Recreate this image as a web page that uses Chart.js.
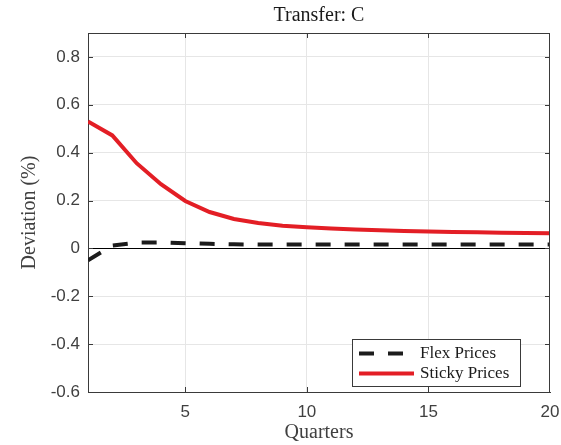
<!DOCTYPE html>
<html>
<head>
<meta charset="utf-8">
<script src="https://cdn.jsdelivr.net/npm/chart.js@4.4.0/dist/chart.umd.min.js"></script>
<style>
  html, body { margin: 0; padding: 0; background: #fff; }
  #wrap { width: 561px; height: 445px; }
</style>
</head>
<body>
<div id="wrap"><canvas id="c" width="561" height="445"></canvas></div>
<script>
// Impulse responses to a transfer shock, deviation from steady state (%)
const quarters = [1, 2, 3, 4, 5, 6, 7, 8, 9, 10, 11, 12, 13, 14, 15, 16, 17, 18, 19, 20];
const flexPrices = [-0.050, 0.012, 0.024, 0.025, 0.022, 0.019, 0.017, 0.016, 0.016, 0.016,
                    0.016, 0.016, 0.016, 0.016, 0.016, 0.016, 0.016, 0.016, 0.016, 0.016];
const stickyPrices = [0.530, 0.472, 0.356, 0.268, 0.198, 0.152, 0.123, 0.106, 0.095, 0.088,
                      0.083, 0.079, 0.076, 0.073, 0.071, 0.069, 0.067, 0.065, 0.064, 0.063];
const xTicks = [5, 10, 15, 20];
const yTicks = [-0.6, -0.4, -0.2, 0, 0.2, 0.4, 0.6, 0.8];

const SERIF = "'Liberation Serif', 'Times New Roman', serif";
const SANS = "'Liberation Sans', Arial, sans-serif";
const AXIS_COLOR = '#3a3a3a';
const GRID_COLOR = '#e6e6e6';

// Box around the plot plus inward tick marks on all four sides
const axesBox = {
  id: 'axesBox',
  afterDatasetsDraw(chart) {
    const { ctx, chartArea: a, scales } = chart;
    ctx.save();
    ctx.strokeStyle = AXIS_COLOR;
    ctx.lineWidth = 1;
    ctx.beginPath();
    ctx.moveTo(a.left, a.top + 0.5); ctx.lineTo(a.right, a.top + 0.5);
    ctx.moveTo(a.right - 0.5, a.top); ctx.lineTo(a.right - 0.5, a.bottom);
    const len = 5;
    scales.x.ticks.forEach(t => {
      const px = Math.round(scales.x.getPixelForValue(t.value)) + 0.5;
      if (px >= a.right - 1) return;
      ctx.moveTo(px, a.bottom); ctx.lineTo(px, a.bottom - len);
      ctx.moveTo(px, a.top); ctx.lineTo(px, a.top + len);
    });
    scales.y.ticks.forEach(t => {
      const py = Math.round(scales.y.getPixelForValue(t.value)) + 0.5;
      ctx.moveTo(a.left, py); ctx.lineTo(a.left + len, py);
      ctx.moveTo(a.right, py); ctx.lineTo(a.right - len, py);
    });
    ctx.stroke();
    ctx.restore();
  }
};

// Boxed legend in the lower right of the plot
const boxLegend = {
  id: 'boxLegend',
  afterDraw(chart) {
    const { ctx, chartArea: a } = chart;
    const w = 168, h = 47;
    const x0 = a.right - 30 - w, y0 = a.bottom - 6 - h;
    ctx.save();
    ctx.fillStyle = '#fff';
    ctx.fillRect(x0, y0, w, h);
    ctx.strokeStyle = AXIS_COLOR;
    ctx.lineWidth = 1;
    ctx.strokeRect(x0 + 0.5, y0 + 0.5, w, h);
    ctx.font = '17px ' + SERIF;
    ctx.textBaseline = 'middle';
    ctx.textAlign = 'left';
    chart.data.datasets.forEach((ds, i) => {
      const y = y0 + 14.5 + i * 20;
      ctx.strokeStyle = ds.borderColor;
      ctx.lineWidth = ds.borderWidth;
      ctx.lineCap = 'butt';
      ctx.setLineDash(ds.borderDash || []);
      ctx.beginPath();
      ctx.moveTo(x0 + 7, y);
      ctx.lineTo(x0 + (ds.borderDash ? 51 : 62), y);
      ctx.stroke();
      ctx.setLineDash([]);
      ctx.fillStyle = '#1a1a1a';
      ctx.fillText(ds.label, x0 + 68, y);
    });
    ctx.restore();
  }
};

new Chart(document.getElementById('c'), {
  type: 'line',
  data: {
    labels: quarters,
    datasets: [
      {
        label: 'Flex Prices',
        data: quarters.map((q, i) => ({ x: q, y: flexPrices[i] })),
        borderColor: '#1c1c1c',
        borderWidth: 4,
        borderDash: [15, 14],
        borderCapStyle: 'butt',
        pointRadius: 0,
        tension: 0,
        fill: false
      },
      {
        label: 'Sticky Prices',
        data: quarters.map((q, i) => ({ x: q, y: stickyPrices[i] })),
        borderColor: '#e31e25',
        borderWidth: 4,
        pointRadius: 0,
        tension: 0,
        fill: false
      }
    ]
  },
  options: {
    responsive: false,
    animation: false,
    devicePixelRatio: 1,
    layout: { padding: { left: 0, right: 11, top: 0, bottom: 0 } },
    plugins: {
      legend: { display: false },
      tooltip: { enabled: false },
      title: {
        display: true,
        fullSize: false,
        text: 'Transfer: C',
        color: '#1a1a1a',
        font: { family: SERIF, size: 20, weight: 'normal' },
        padding: { top: 4, bottom: 5 }
      }
    },
    scales: {
      x: {
        type: 'linear',
        min: 1,
        max: 20,
        afterBuildTicks: s => { s.ticks = xTicks.map(v => ({ value: v })); },
        afterFit: s => { s.height = 53; s.paddingLeft = 0; s.paddingRight = 0; },
        ticks: {
          color: '#404040',
          font: { family: SANS, size: 17 },
          padding: 10,
          maxRotation: 0,
          callback: v => String(v)
        },
        grid: {
          color: c => (c.tick && c.tick.value >= 20) ? 'rgba(0,0,0,0)' : GRID_COLOR,
          lineWidth: 1,
          drawTicks: false
        },
        border: { display: true, color: AXIS_COLOR, width: 1 },
        title: {
          display: true,
          text: 'Quarters',
          color: '#404040',
          font: { family: SERIF, size: 20, weight: 'normal' },
          padding: { top: 0, bottom: 0 }
        }
      },
      y: {
        type: 'linear',
        min: -0.6,
        max: 0.9,
        afterBuildTicks: s => { s.ticks = yTicks.map(v => ({ value: v })); },
        afterFit: s => { s.width = 88; },
        ticks: {
          color: '#404040',
          font: { family: SANS, size: 17 },
          padding: 8,
          callback: v => String(Math.round(v * 10) / 10)
        },
        grid: {
          color: c => (c.tick && Math.abs(c.tick.value) < 1e-9) ? '#000000' : GRID_COLOR,
          lineWidth: 1,
          drawTicks: false
        },
        border: { display: true, color: AXIS_COLOR, width: 1 },
        title: {
          display: true,
          text: 'Deviation (%)',
          color: '#404040',
          font: { family: SERIF, size: 20, weight: 'normal' },
          padding: { top: 18, bottom: 0 }
        }
      }
    }
  },
  plugins: [axesBox, boxLegend]
});
</script>
</body>
</html>
